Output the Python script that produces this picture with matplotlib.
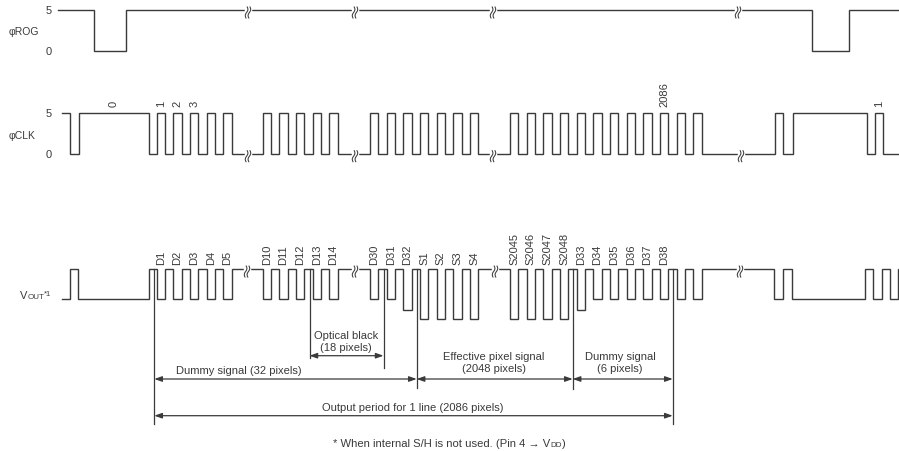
import matplotlib.pyplot as plt
import numpy as np

plt.rcParams['font.family'] = ['Liberation Sans', 'DejaVu Sans']

INK = '#3a3a3a'

# ---- waveform data: edge times (drawing units along the line) and level after each edge ----
rog_t = [58, 94, 126, 812, 849, 899]
rog_v = [5, 0, 5, 0, 5, 5]

clk_t = [62, 70, 79, 148.7,
         156.7, 165, 173.3, 181.7, 190, 198.3, 206.7, 215, 223.3, 231.7,
         262.7, 271, 279.3, 287.7, 296, 304.3, 312.7, 321, 329.3, 337.7,
         370, 378.3, 386.7, 395, 403.3, 411.7, 420, 428.3, 436.7, 445, 453.3, 461.7, 470, 478.3,
         510, 518.3, 526.7, 535, 543.3, 551.7, 560, 568.3, 576.7, 585, 593.3, 601.7,
         610, 618.3, 626.7, 635, 643.3, 651.7, 660, 668.3, 676.7, 685, 693.3, 701.7,
         775, 783.3, 792.7, 866.7, 875, 883.3, 899]
clk_v = [5, 0, 5, 0,
         5, 0, 5, 0, 5, 0, 5, 0, 5, 0,
         5, 0, 5, 0, 5, 0, 5, 0, 5, 0,
         5, 0, 5, 0, 5, 0, 5, 0, 5, 0, 5, 0, 5, 0,
         5, 0, 5, 0, 5, 0, 5, 0, 5, 0, 5, 0,
         5, 0, 5, 0, 5, 0, 5, 0, 5, 0, 5, 0,
         5, 0, 5, 0, 5, 0, 0]

# VOUT levels: reset, dummy / optical black, transition pixel, signal
R, DK, TR, SG = 3.65, 0.0, -1.3, -2.45
vout_t = [61.7, 70, 78.3, 148.7,
          156.7, 165, 173.3, 181.7, 190, 198.3, 206.7, 215, 223.3, 231.7,
          262.7, 271, 279.3, 287.7, 296, 304.3, 312.7, 321, 329.3, 337.7,
          370, 378.3, 386.7, 395, 403.3, 411.7, 420, 428.3, 436.7, 445, 453.3, 461.7, 470, 478.3,
          510, 518.3, 526.7, 535, 543.3, 551.7, 560, 568.3, 576.7, 585, 593.3, 601.7,
          610, 618.3, 626.7, 635, 643.3, 651.7, 660, 668.3, 676.7, 685, 693.3, 701.7,
          774, 782.7, 791.7, 865, 873, 881.7, 890, 898, 899]
vout_v = [DK, R, DK, R,
          DK, R, DK, R, DK, R, DK, R, DK, R,
          DK, R, DK, R, DK, R, DK, R, DK, R,
          DK, R, DK, R, TR, R, SG, R, SG, R, SG, R, SG, R,
          SG, R, SG, R, SG, R, SG, R, TR, R, DK, R,
          DK, R, DK, R, DK, R, DK, R, DK, R, DK, R,
          DK, R, DK, R, DK, R, DK, R, R]

rog_breaks = [248, 355, 493, 738]
clk_breaks = [248, 355, 493, 741]
vout_breaks = [247, 355, 495, 740]

clk_names = ['0', '1', '2', '3', '2086', '1']
clk_name_t = [113.9, 160.8, 177.5, 194.2, 664.2, 879.2]

vout_names = ['D1', 'D2', 'D3', 'D4', 'D5', 'D10', 'D11', 'D12', 'D13', 'D14',
              'D30', 'D31', 'D32', 'S1', 'S2', 'S3', 'S4',
              'S2045', 'S2046', 'S2047', 'S2048', 'D33', 'D34', 'D35', 'D36', 'D37', 'D38']
vout_name_t = [160.8, 177.5, 194.2, 210.8, 227.5, 266.8, 283.5, 300.2, 316.8, 333.5,
               374.2, 390.8, 407.5, 424.2, 440.8, 457.5, 474.2,
               514.2, 530.8, 547.5, 564.2, 580.8, 597.5, 614.2, 630.8, 647.5, 664.2]

# boundary markers (time) and the spans between them
mark_t = [154.3, 309.5, 383.5, 416.7, 572.7, 672.7]
mark_end = [425, 359, 369, 389, 390, 425]
span_from = [309.5, 154.3, 416.7, 572.7, 154.3]
span_to = [383.5, 416.7, 572.7, 672.7, 672.7]
span_row = [356.7, 380, 380, 380, 416.7]
span_text = ['Optical black\n(18 pixels)', 'Dummy signal (32 pixels)',
             'Effective pixel signal\n(2048 pixels)', 'Dummy signal\n(6 pixels)',
             'Output period for 1 line (2086 pixels)']
span_text_xy = [(346, 342), (239, 371.5), (494, 363), (620, 363), (413, 408)]

# ---- layout ----
SCALE = 8.2
ROG_BASE, CLK_BASE, VOUT_BASE = 52, 154.7, 300

fig = plt.figure(figsize=(8.99, 4.52), dpi=100)
ax = fig.add_axes([0, 0, 1, 1])
ax.set_xlim(0, 899)
ax.set_ylim(452, 0)
ax.axis('off')


def wave(t, v, base):
    y = [base - lv * SCALE for lv in v]
    ax.step(t, y, where='post', color=INK, lw=1.0, solid_joinstyle='miter')


def brk(x, y):
    # little double "S" cut mark across the line
    s = np.linspace(0, 1, 40)
    yy = y - 3 + 11 * s
    ax.plot([x - 2.0, x + 2.0], [y, y], color='white', lw=2.5, zorder=3)
    for dx in (-1.4, 1.4):
        xx = x + dx + 1.0 * np.sin(2 * np.pi * s) - 1.2 * (s - 0.5)
        ax.plot(xx, yy, color=INK, lw=0.75, zorder=4)


wave(rog_t, rog_v, ROG_BASE)
wave(clk_t, clk_v, CLK_BASE)
wave(vout_t, vout_v, VOUT_BASE)

for b in rog_breaks:
    brk(b, ROG_BASE - 5 * SCALE)
for b in clk_breaks:
    brk(b, CLK_BASE)
for b in vout_breaks:
    brk(b, VOUT_BASE - R * SCALE)

# level labels and row names
for base in (ROG_BASE, CLK_BASE):
    ax.text(49, base - 5 * SCALE, '5', fontsize=8, color=INK, ha='center', va='center')
    ax.text(49, base, '0', fontsize=8, color=INK, ha='center', va='center')
ax.text(9, 32, 'φROG', fontsize=7.5, color=INK, ha='left', va='center')
ax.text(9, 136, 'φCLK', fontsize=7.5, color=INK, ha='left', va='center')

for name, t in zip(clk_names, clk_name_t):
    ax.text(t, 107, name, rotation=90, fontsize=8, color=INK, ha='center', va='bottom')
for name, t in zip(vout_names, vout_name_t):
    ax.text(t, 265, name, rotation=90, fontsize=8, color=INK, ha='center', va='bottom')

# dimension lines
for t, yb in zip(mark_t, mark_end):
    ax.plot([t, t], [VOUT_BASE - R * SCALE, yb], color=INK, lw=0.9)
for a, b, yr in zip(span_from, span_to, span_row):
    ax.annotate('', xy=(b, yr), xytext=(a, yr),
                arrowprops=dict(arrowstyle='<|-|>,head_length=0.45,head_width=0.16',
                                color=INK, lw=0.9, shrinkA=0, shrinkB=0,
                                mutation_scale=10))
for txt, (x, y) in zip(span_text, span_text_xy):
    ax.text(x, y, txt, fontsize=8, color=INK, ha='center', va='center', linespacing=1.15)

# text runs with small caps subscripts
fig.canvas.draw()
rend = fig.canvas.get_renderer()


def run(x, y, parts):
    inv = ax.transData.inverted()
    for s, size, dy in parts:
        t = ax.text(x, y - dy, s, fontsize=size, color=INK, ha='left', va='baseline')
        bb = t.get_window_extent(rend)
        x = inv.transform((bb.x1, bb.y0))[0]


run(20, 299, [('V', 8, 0), ('OUT', 5.8, 0), ('*1', 5.5, 2.5)])
run(333, 447, [('* When internal S/H is not used. (Pin 4 → V', 8.1, 0), ('DD', 5.8, 0), (')', 8.1, 0)])

fig.savefig('out.png', dpi=100, facecolor='white')
